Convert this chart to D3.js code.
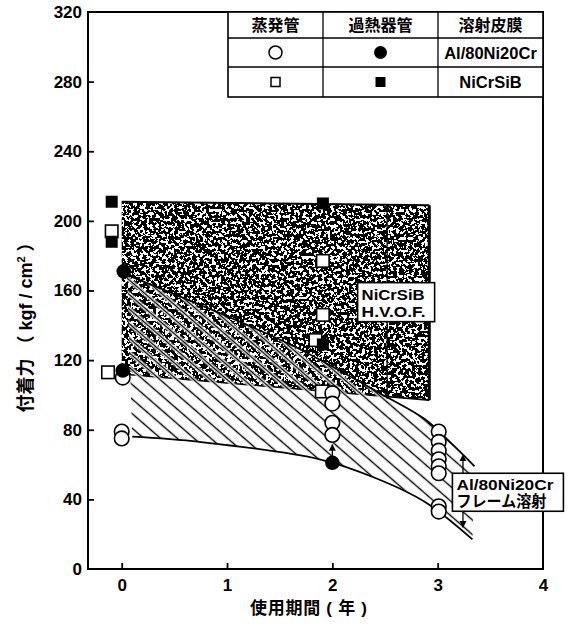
<!DOCTYPE html>
<html><head><meta charset="utf-8">
<script src="https://cdn.jsdelivr.net/npm/d3@7"></script>
<style>
body{margin:0;background:#fff;}
text{font-family:"Liberation Sans","Noto Sans CJK JP",sans-serif;font-weight:bold;fill:#000;}
</style></head><body>
<svg id="chart" width="569" height="629"></svg>
<script>
// values: x = years in service, y = adhesion (kgf/cm2)
const yTicks = [0, 40, 80, 120, 160, 200, 240, 280, 320];
const xTicks = [0, 1, 2, 3, 4];

// 蒸発管 / Al/80Ni20Cr (open circles)
const evapAl = [[0.01, 110], [0, 79], [0, 75], [2, 101], [2, 95], [2, 84], [2, 77],
  [3.01, 79], [3.01, 73], [3.01, 68], [3.01, 63], [3.01, 59], [3.01, 55], [3.01, 36], [3.01, 33]];
// 過熱器管 / Al/80Ni20Cr (filled circles)
const superAl = [[0.02, 171], [0.01, 114], [2, 61]];
// 蒸発管 / NiCrSiB (open squares)
const evapNi = [[-0.095, 194], [-0.13, 113], [1.91, 177], [1.91, 146], [1.84, 131.5], [1.9, 102]];
// 過熱器管 / NiCrSiB (filled squares)
const superNi = [[-0.095, 211], [-0.095, 188], [1.91, 210], [1.91, 129]];

// NiCrSiB H.V.O.F. band (stippled)
const nicrTop = [[0, 211], [2.92, 209]];
const nicrBottom = [[0, 112], [2.92, 97]];
// Al/80Ni20Cr flame spray band (hatched)
const alUpper = [[0.05, 169], [1.6, 129], [2.45, 101], [2.88, 86], [3.15, 71], [3.35, 59]];
const alLower = [[0.1, 76], [0.74, 73], [1.88, 63], [2.42, 52], [2.88, 38.5], [3.33, 17]];

const svg = d3.select('#chart');
const x = d3.scaleLinear().domain([-0.32, 4]).range([88, 543]);
const y = d3.scaleLinear().domain([0, 320]).range([569, 12]);

const defs = svg.append('defs');
const pat = defs.append('pattern').attr('id', 'hatch').attr('patternUnits', 'userSpaceOnUse')
  .attr('width', 20).attr('height', 11).attr('patternTransform', 'rotate(41)');
pat.append('rect').attr('x', 0).attr('y', 3.5).attr('width', 20).attr('height', 4).attr('fill', '#fff');
pat.append('rect').attr('x', 0).attr('y', 4.8).attr('width', 20).attr('height', 1.4).attr('fill', '#000');

const f = defs.append('filter').attr('id', 'speck').attr('color-interpolation-filters', 'sRGB');
f.append('feTurbulence').attr('type', 'fractalNoise').attr('baseFrequency', 0.32)
  .attr('numOctaves', 3).attr('seed', 7).attr('result', 'n');
f.append('feColorMatrix').attr('in', 'n').attr('type', 'matrix')
  .attr('values', '0 0 0 0 0  0 0 0 0 0  0 0 0 0 0  4 0 0 0 -1.35').attr('result', 'a');
f.append('feComponentTransfer').attr('in', 'a').attr('result', 'b')
  .append('feFuncA').attr('type', 'discrete').attr('tableValues', '0 1');
f.append('feComposite').attr('in', 'SourceGraphic').attr('in2', 'b').attr('operator', 'in');

defs.append('marker').attr('id', 'arr').attr('viewBox', '0 0 10 10').attr('refX', 9).attr('refY', 5)
  .attr('markerWidth', 7).attr('markerHeight', 9).attr('markerUnits', 'userSpaceOnUse')
  .attr('orient', 'auto-start-reverse')
  .append('path').attr('d', 'M0,0L10,5L0,10Z').attr('fill', '#000');

const line = d3.line().x(d => x(d[0])).y(d => y(d[1]));
const cline = d3.line().x(d => x(d[0])).y(d => y(d[1])).curve(d3.curveCatmullRom.alpha(0.5));

// stippled band
const band = nicrTop.concat(nicrBottom.slice().reverse());
svg.append('path').attr('d', line(band) + 'Z').attr('fill', '#000').attr('filter', 'url(#speck)');
svg.append('path').attr('d', line(nicrTop)).attr('stroke', '#000').attr('stroke-width', 2).attr('fill', 'none');
svg.append('path').attr('d', line(nicrBottom)).attr('stroke', '#000').attr('stroke-width', 1.6).attr('fill', 'none');
svg.append('path').attr('d', line([nicrTop[1], nicrBottom[1]])).attr('stroke', '#000').attr('stroke-width', 3).attr('fill', 'none');

// hatched band
const up = cline(alUpper);
const lo = cline(alLower.slice().reverse());
svg.append('path').attr('d', up + 'L' + lo.slice(1) + 'Z').attr('fill', 'url(#hatch)');
svg.append('path').attr('d', up).attr('stroke', '#000').attr('stroke-width', 1.8).attr('fill', 'none');
svg.append('path').attr('d', cline(alLower)).attr('stroke', '#000').attr('stroke-width', 1.8).attr('fill', 'none');

// axes frame
svg.append('rect').attr('x', x(-0.32)).attr('y', y(320)).attr('width', x(4) - x(-0.32))
  .attr('height', y(0) - y(320)).attr('fill', 'none').attr('stroke', '#000').attr('stroke-width', 2);

const ax = svg.append('g').attr('transform', `translate(0,${y(0)})`)
  .call(d3.axisBottom(x).tickValues(xTicks).tickFormat(d3.format('d'))
    .tickSizeInner(-6).tickSizeOuter(0).tickPadding(10));
const ay = svg.append('g').attr('transform', `translate(${x(-0.32)},0)`)
  .call(d3.axisLeft(y).tickValues(yTicks).tickSizeInner(-6).tickSizeOuter(0).tickPadding(6));
[ax, ay].forEach(g => {
  g.select('.domain').remove();
  g.selectAll('.tick line').attr('stroke-width', 1.8);
  g.selectAll('text').style('font-size', '17px').attr('font-family', null);
});
ax.selectAll('.tick').filter(d => d === 4).select('line').remove();
ay.selectAll('.tick').filter(d => d === 320 || d === 0).select('line').remove();

// annotation arrows
svg.append('line').attr('x1', x(2.52)).attr('x2', x(2.52)).attr('y1', y(98)).attr('y2', y(209))
  .attr('stroke', '#000').attr('stroke-width', 1.3).attr('marker-end', 'url(#arr)').attr('marker-start', 'url(#arr)');
svg.append('line').attr('x1', x(3.24)).attr('x2', x(3.24)).attr('y1', y(24)).attr('y2', y(65.5))
  .attr('stroke', '#000').attr('stroke-width', 1.3).attr('marker-end', 'url(#arr)').attr('marker-start', 'url(#arr)');
svg.append('line').attr('x1', x(2)).attr('x2', x(2)).attr('y1', y(63)).attr('y2', y(71.5))
  .attr('stroke', '#000').attr('stroke-width', 1.3).attr('marker-end', 'url(#arr)');

// markers
const sq = 12.5;
svg.selectAll('.es').data(evapNi).join('rect').attr('x', d => x(d[0]) - sq / 2).attr('y', d => y(d[1]) - sq / 2)
  .attr('width', sq).attr('height', sq).attr('fill', '#fff').attr('stroke', '#000').attr('stroke-width', 1.6);
svg.selectAll('.ec').data(evapAl).join('circle').attr('cx', d => x(d[0])).attr('cy', d => y(d[1])).attr('r', 7.3)
  .attr('fill', '#fff').attr('stroke', '#000').attr('stroke-width', 1.6);
svg.selectAll('.sc').data(superAl).join('circle').attr('cx', d => x(d[0])).attr('cy', d => y(d[1])).attr('r', 7.3)
  .attr('fill', '#000');
svg.selectAll('.ss').data(superNi).join('rect').attr('x', d => x(d[0]) - 6).attr('y', d => y(d[1]) - 6)
  .attr('width', 12).attr('height', 12).attr('fill', '#000');

// label boxes
function labelBox(bx, by, w, h, lines, lens) {
  svg.append('rect').attr('x', bx).attr('y', by).attr('width', w).attr('height', h)
    .attr('fill', '#fff').attr('stroke', '#000').attr('stroke-width', 1.6);
  lines.forEach((t, i) => svg.append('text').attr('x', bx + 4).attr('y', by + 17 + i * 17)
    .attr('textLength', lens[i]).attr('lengthAdjust', 'spacingAndGlyphs')
    .style('font-size', '15.5px').text(t));
}
labelBox(x(2.24), y(164.5), 77, 39, ['NiCrSiB', 'H.V.O.F.'], [63, 64]);
labelBox(x(3.14), y(55), 111, 38, ['Al/80Ni20Cr', 'フレーム溶射'], [97, 90]);

// legend table
const tx = [228, 323, 438, 543], ty = [12, 38, 67, 97];
const tg = svg.append('g');
tg.append('rect').attr('x', tx[0]).attr('y', ty[0]).attr('width', tx[3] - tx[0]).attr('height', ty[3] - ty[0])
  .attr('fill', '#fff').attr('stroke', '#000').attr('stroke-width', 1.6);
[tx[1], tx[2]].forEach(v => tg.append('line').attr('x1', v).attr('x2', v).attr('y1', ty[0]).attr('y2', ty[3])
  .attr('stroke', '#000').attr('stroke-width', 1.3));
[ty[1], ty[2]].forEach(v => tg.append('line').attr('x1', tx[0]).attr('x2', tx[3]).attr('y1', v).attr('y2', v)
  .attr('stroke', '#000').attr('stroke-width', 1.3));
const cx = i => (tx[i] + tx[i + 1]) / 2, cy = j => (ty[j] + ty[j + 1]) / 2;
['蒸発管', '過熱器管', '溶射皮膜'].forEach((t, i) => tg.append('text').attr('x', cx(i)).attr('y', cy(0) + 6)
  .attr('text-anchor', 'middle').style('font-size', '16px').text(t));
['Al/80Ni20Cr', 'NiCrSiB'].forEach((t, j) => tg.append('text').attr('x', cx(2)).attr('y', cy(j + 1) + 6)
  .attr('text-anchor', 'middle').style('font-size', '16.5px').text(t));
tg.append('circle').attr('cx', cx(0)).attr('cy', cy(1)).attr('r', 6.5).attr('fill', '#fff').attr('stroke', '#000').attr('stroke-width', 1.5);
tg.append('circle').attr('cx', cx(1)).attr('cy', cy(1)).attr('r', 6.5).attr('fill', '#000');
tg.append('rect').attr('x', cx(0) - 4.5).attr('y', cy(2) - 4.5).attr('width', 9).attr('height', 9).attr('fill', '#fff').attr('stroke', '#000').attr('stroke-width', 1.5);
tg.append('rect').attr('x', cx(1) - 5).attr('y', cy(2) - 5).attr('width', 10).attr('height', 10).attr('fill', '#000');

// axis titles
svg.append('text').attr('x', 250).attr('y', 614).style('font-size', '17px')
  .attr('textLength', 117).attr('lengthAdjust', 'spacing').text('使用期間 ( 年 )');
const yl = svg.append('text').attr('transform', 'translate(32,323) rotate(-90)').attr('text-anchor', 'middle')
  .style('font-size', '18px');
yl.append('tspan').text('付着力 （ kgf / cm');
yl.append('tspan').attr('dy', -7).style('font-size', '11px').text('2');
yl.append('tspan').attr('dy', 7).text(' ）');
</script></body></html>
